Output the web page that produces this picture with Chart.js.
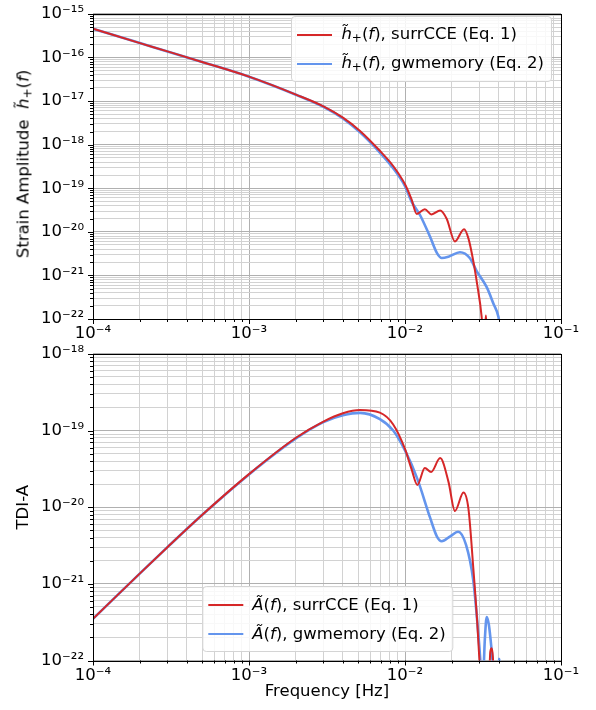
<!DOCTYPE html>
<html>
<head>
<meta charset="utf-8">
<script src="https://cdn.jsdelivr.net/npm/chart.js@4.4.1/dist/chart.umd.min.js"></script>
<style>
  body { margin: 0; background: #fff; font-family: "DejaVu Sans", sans-serif; }
  #wrap { position: relative; width: 596px; height: 710px; overflow: hidden; }
  #wrap canvas { position: absolute; left: 0; }
  .legend {
    position: absolute; background: rgba(255,255,255,0.85);
    border: 1px solid #d4d4d4; border-radius: 4px;
    padding: 3px 7px 3px 5px; font-size: 16.5px; color: #000;
  }
  .legend .row { display: flex; align-items: center; height: 29px; white-space: nowrap; }
  .legend .sw { display: inline-block; width: 35px; border-top: 2px solid; margin-right: 9px; }
  sub { font-size: 12px; vertical-align: -3px; }
  .ytitle {
    position: absolute; white-space: nowrap; font-size: 16.5px; color: #000;
    transform: translate(-50%, -50%) rotate(-90deg);
  }
</style>
</head>
<body>
<div id="wrap">
  <canvas id="topChart" width="596" height="350" style="top:0"></canvas>
  <canvas id="botChart" width="596" height="370" style="top:340px"></canvas>
  <div class="ytitle" style="left:24px; top:164px">Strain Amplitude&nbsp; <i>h̃</i><sub>+</sub>(<i>f</i>)</div>
  <div class="legend" style="right:44px; top:16px">
    <div class="row"><span class="sw" style="border-color:#d62728"></span><span><i>h̃</i><sub>+</sub>(<i>f</i>), surrCCE (Eq. 1)</span></div>
    <div class="row"><span class="sw" style="border-color:#6495ed"></span><span><i>h̃</i><sub>+</sub>(<i>f</i>), gwmemory (Eq. 2)</span></div>
  </div>
  <div class="legend" style="left:328px; bottom:58px; transform:translateX(-50%)">
    <div class="row"><span class="sw" style="border-color:#d62728"></span><span><i>Ã</i>(<i>f</i>), surrCCE (Eq. 1)</span></div>
    <div class="row"><span class="sw" style="border-color:#6495ed"></span><span><i>Ã</i>(<i>f</i>), gwmemory (Eq. 2)</span></div>
  </div>
</div>
<script>
// decades used for ticks / grid
const freqDecades = [-4, -3, -2, -1];
const strainDecades = [-22, -21, -20, -19, -18, -17, -16, -15];
const tdiDecades = [-22, -21, -20, -19, -18];

// top panel: strain amplitude
const hFreqSurr = [1e-4, 2e-4, 3e-4, 5e-4, 1e-3, 2e-3, 3e-3, 4e-3, 5.15e-3, 6.9e-3, 8.4e-3, 1.0e-2, 1.1e-2, 1.19e-2, 1.34e-2, 1.48e-2, 1.68e-2, 1.85e-2, 2.09e-2, 2.39e-2, 2.55e-2, 2.74e-2, 2.9e-2, 3.1e-2, 3.15e-2, 3.25e-2, 3.3e-2, 3.35e-2, 3.4e-2];
const hSurr = [4.55e-16, 2.14e-16, 1.38e-16, 7.9e-17, 3.63e-17, 1.41e-17, 7.59e-18, 4.17e-18, 2.07e-18, 7.24e-19, 3.24e-19, 1.23e-19, 5.6e-20, 2.57e-20, 3.31e-20, 2.51e-20, 3.09e-20, 2.0e-20, 6.03e-21, 1.15e-20, 7.08e-21, 2.14e-21, 6.31e-22, 1.12e-22, 5e-23, 5e-23, 1.2e-22, 5e-23, 5e-23];
const hFreqMem = [1e-4, 2e-4, 3e-4, 5e-4, 1e-3, 2e-3, 3e-3, 4e-3, 5.15e-3, 6.9e-3, 8.4e-3, 1.0e-2, 1.1e-2, 1.25e-2, 1.45e-2, 1.6e-2, 1.72e-2, 1.9e-2, 2.25e-2, 2.6e-2, 2.88e-2, 3.34e-2, 3.69e-2, 3.97e-2, 4.1e-2];
const hMem = [4.55e-16, 2.14e-16, 1.38e-16, 7.9e-17, 3.63e-17, 1.40e-17, 7.4e-18, 4.0e-18, 1.91e-18, 6.6e-19, 2.88e-19, 1.12e-19, 5.01e-20, 2.40e-20, 7.59e-21, 3.3e-21, 2.51e-21, 2.69e-21, 3.39e-21, 2.51e-21, 1.26e-21, 5.37e-22, 2.24e-22, 1.12e-22, 5e-23];

// bottom panel: TDI-A
const aFreqSurr = [1e-4, 2e-4, 3e-4, 5e-4, 1e-3, 2e-3, 3e-3, 4e-3, 5.15e-3, 6.9e-3, 8.4e-3, 1.0e-2, 1.1e-2, 1.2e-2, 1.34e-2, 1.47e-2, 1.68e-2, 1.9e-2, 2.09e-2, 2.37e-2, 2.55e-2, 2.74e-2, 2.9e-2, 3.0e-2, 3.05e-2, 3.45e-2, 3.52e-2, 3.6e-2, 3.66e-2, 3.72e-2];
const aSurr = [3.50e-22, 1.37e-21, 3.01e-21, 7.91e-21, 2.70e-20, 8.05e-20, 1.31e-19, 1.68e-19, 1.85e-19, 1.71e-19, 1.20e-19, 5.75e-20, 3.16e-20, 1.95e-20, 3.24e-20, 2.88e-20, 4.37e-20, 2.14e-20, 8.91e-21, 1.55e-20, 9.55e-21, 1.62e-21, 3.31e-22, 1.0e-22, 5e-23, 5e-23, 1.3e-22, 1.45e-22, 1.1e-22, 5e-23];
const aFreqMem = [1e-4, 2e-4, 3e-4, 5e-4, 1e-3, 2e-3, 3e-3, 4e-3, 5.15e-3, 6.9e-3, 8.4e-3, 1.0e-2, 1.2e-2, 1.45e-2, 1.6e-2, 1.72e-2, 1.95e-2, 2.19e-2, 2.46e-2, 2.74e-2, 2.95e-2, 3.04e-2, 3.1e-2, 3.15e-2, 3.25e-2, 3.34e-2, 3.45e-2, 3.6e-2, 3.76e-2, 3.9e-2, 4.0e-2, 4.2e-2];
const aMem = [3.50e-22, 1.37e-21, 3.01e-21, 7.91e-21, 2.68e-20, 7.9e-20, 1.29e-19, 1.58e-19, 1.70e-19, 1.41e-19, 1.0e-19, 5.5e-20, 2.34e-20, 7.24e-21, 4.17e-21, 3.59e-21, 4.17e-21, 4.79e-21, 3.24e-21, 1.10e-21, 2.24e-22, 1.0e-22, 5e-23, 5e-23, 1.9e-22, 3.7e-22, 2.9e-22, 1.3e-22, 5e-23, 5e-23, 1.05e-22, 5e-23];

const RED = '#d62728';
const BLUE = '#6495ed';
const FONT = { family: 'DejaVu Sans', size: 16.5 };

const sup = s => String(s).replace(/[-0-9]/g, c => '⁻⁰¹²³⁴⁵⁶⁷⁸⁹'['-0123456789'.indexOf(c)]);
const pts = (xs, ys) => xs.map((x, i) => ({ x, y: ys[i] }));

// 1..9 x 10^e for every decade, plus the last power of ten
function logTicks(decades) {
  const out = [];
  for (let k = 0; k < decades.length - 1; k++) {
    for (let m = 1; m <= 9; m++) out.push({ value: Number(m + 'e' + decades[k]), major: m === 1, exp: decades[k] });
  }
  const last = decades[decades.length - 1];
  out.push({ value: Number('1e' + last), major: true, exp: last });
  return out;
}

function logAxis(decades, title, titlePad, fit, tickPad) {
  return {
    type: 'logarithmic',
    min: Number('1e' + decades[0]),
    max: Number('1e' + decades[decades.length - 1]),
    afterBuildTicks: s => { s.ticks = logTicks(decades); },
    afterFit: fit,
    ticks: {
      autoSkip: false, maxRotation: 0, color: '#000', font: FONT, padding: tickPad,
      callback: function (v, i) {
        const t = this.ticks[i];
        return t && t.major ? '10' + sup(t.exp) : '';
      }
    },
    grid: {
      color: c => (c.tick && c.tick.major ? '#b0b0b0' : '#d2d2d2'),
      lineWidth: 1, tickLength: 5, tickColor: 'rgba(0,0,0,0)'
    },
    border: { display: false },
    title: title ? { display: true, text: title, color: '#000', font: FONT, padding: titlePad } : { display: false }
  };
}

// black frame and matplotlib-like tick marks (major longer than minor)
const framePlugin = {
  id: 'frame',
  afterDraw(chart) {
    const { ctx, chartArea: a } = chart;
    const xs = chart.scales.x, ys = chart.scales.y;
    ctx.save();
    ctx.strokeStyle = '#000';
    ctx.lineWidth = 1;
    ctx.beginPath();
    xs.ticks.forEach(t => {
      const px = Math.round(xs.getPixelForValue(t.value)) + 0.5;
      ctx.moveTo(px, a.bottom);
      ctx.lineTo(px, a.bottom + (t.major ? 5 : 3));
    });
    ys.ticks.forEach(t => {
      const py = Math.round(ys.getPixelForValue(t.value)) + 0.5;
      ctx.moveTo(a.left, py);
      ctx.lineTo(a.left - (t.major ? 5 : 3), py);
    });
    ctx.stroke();
    ctx.strokeRect(Math.round(a.left) + 0.5, Math.round(a.top) + 0.5,
      Math.round(a.right - a.left), Math.round(a.bottom - a.top));
    ctx.restore();
  }
};

function makeChart(id, redPts, bluePts, yDecades, yTitle, xTitle, xHeight, padTop) {
  new Chart(document.getElementById(id), {
    type: 'line',
    data: {
      datasets: [
        { data: redPts, borderColor: RED, borderWidth: 2, pointRadius: 0, cubicInterpolationMode: 'monotone' },
        { data: bluePts, borderColor: BLUE, borderWidth: 2.6, pointRadius: 0, cubicInterpolationMode: 'monotone' }
      ]
    },
    options: {
      responsive: false,
      animation: false,
      devicePixelRatio: 1,
      layout: { padding: { top: padTop, right: 35, left: 0, bottom: 0 } },
      plugins: { legend: { display: false }, tooltip: { enabled: false } },
      scales: {
        x: logAxis(freqDecades, xTitle, { top: 4, bottom: 8 }, s => { s.height = xHeight; }, 0),
        y: logAxis(yDecades, yTitle, { top: 14, bottom: 0 }, s => { s.width = 93; }, 4)
      }
    },
    plugins: [framePlugin]
  });
}

makeChart('topChart', pts(hFreqSurr, hSurr), pts(hFreqMem, hMem), strainDecades,
  null, null, 31, 7.5);
makeChart('botChart', pts(aFreqSurr, aSurr), pts(aFreqMem, aMem), tdiDecades,
  'TDI-A', 'Frequency [Hz]', 49.5, 10.5);
</script>
</body>
</html>
